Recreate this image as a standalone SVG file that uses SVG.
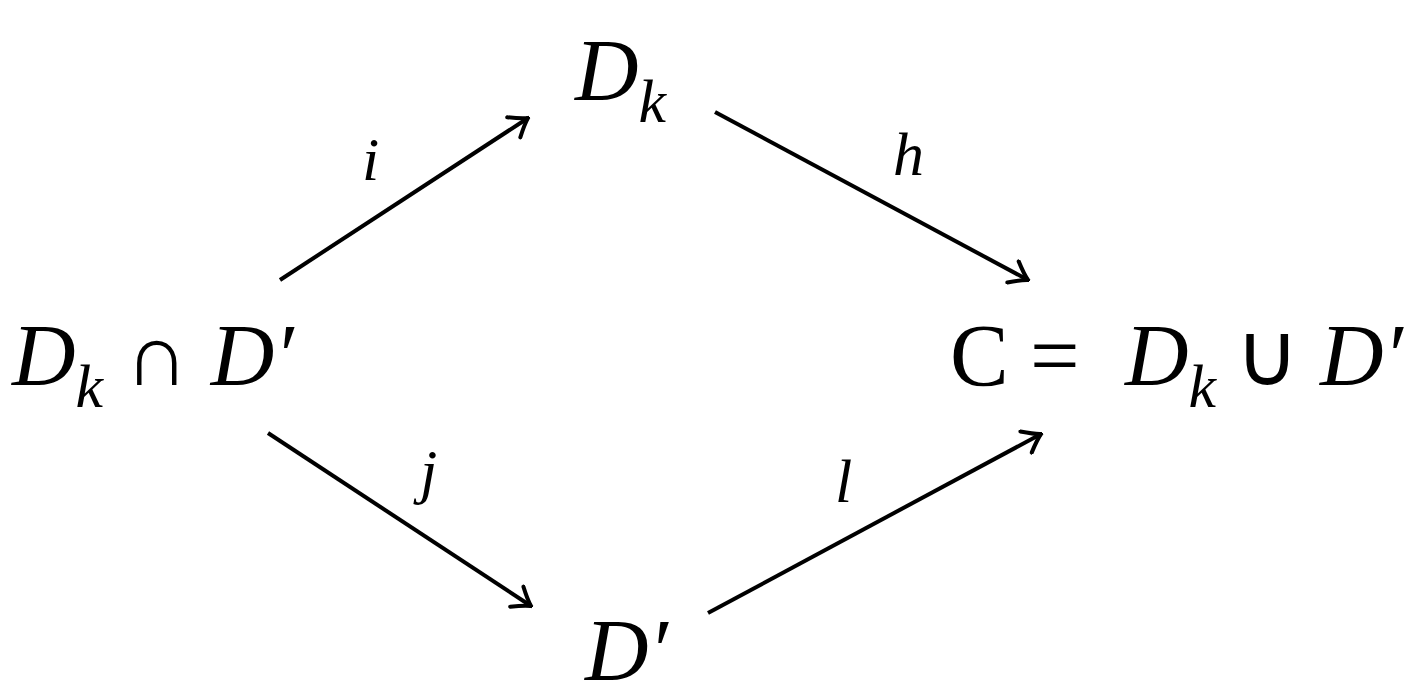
<svg xmlns="http://www.w3.org/2000/svg" width="1417" height="697" viewBox="0 0 1417 697">
<style>
.t{font-family:"Liberation Serif",serif;font-size:88px;fill:#000}
.i{font-style:italic}
.s{font-family:"Liberation Serif",serif;font-style:italic;font-size:62px}
.l{font-family:"Liberation Serif",serif;font-style:italic;font-size:62px}
.e{stroke:#000;stroke-width:4;fill:none}
</style>
<defs>
<marker id="a" viewBox="-20 -14 22 28" markerWidth="22" markerHeight="28" refX="0" refY="0" orient="auto" markerUnits="userSpaceOnUse">
<path d="M-17,-12 Q-6,-3 0,0 Q-6,3 -17,12" fill="none" stroke="#000" stroke-width="4" stroke-linecap="round"/>
</marker>
</defs>
<rect width="1417" height="697" fill="#fff"/>
<g id="connectors" class="e">
<line x1="280" y1="280" x2="528" y2="118" marker-end="url(#a)"/>
<line x1="715" y1="112" x2="1028" y2="280" marker-end="url(#a)"/>
<line x1="268" y1="433" x2="531" y2="606" marker-end="url(#a)"/>
<line x1="708" y1="613" x2="1041" y2="434" marker-end="url(#a)"/>
</g>
<g id="labels">
<text class="l" x="362" y="180">i</text>
<text class="l" x="893" y="175">h</text>
<text class="l" x="420" y="492">j</text>
<text class="l" x="835" y="502">l</text>
</g>
<g id="top"><text class="t i" x="575" y="100">D<tspan class="s" dy="22">k</tspan></text></g>
<g id="left"><text class="t" x="12" y="385"><tspan class="i">D</tspan><tspan class="s" dy="22">k</tspan><tspan dy="-22"> ∩ </tspan><tspan class="i">D′</tspan></text></g>
<g id="right"><text class="t" x="950" y="385">C <tspan x="1030">=</tspan><tspan class="i" x="1125">D</tspan><tspan class="s" dy="22">k</tspan><tspan dy="-22" x="1235">∪</tspan><tspan class="i" x="1320">D′</tspan></text></g>
<g id="bottom"><text class="t i" x="585" y="680">D′</text></g>
</svg>
